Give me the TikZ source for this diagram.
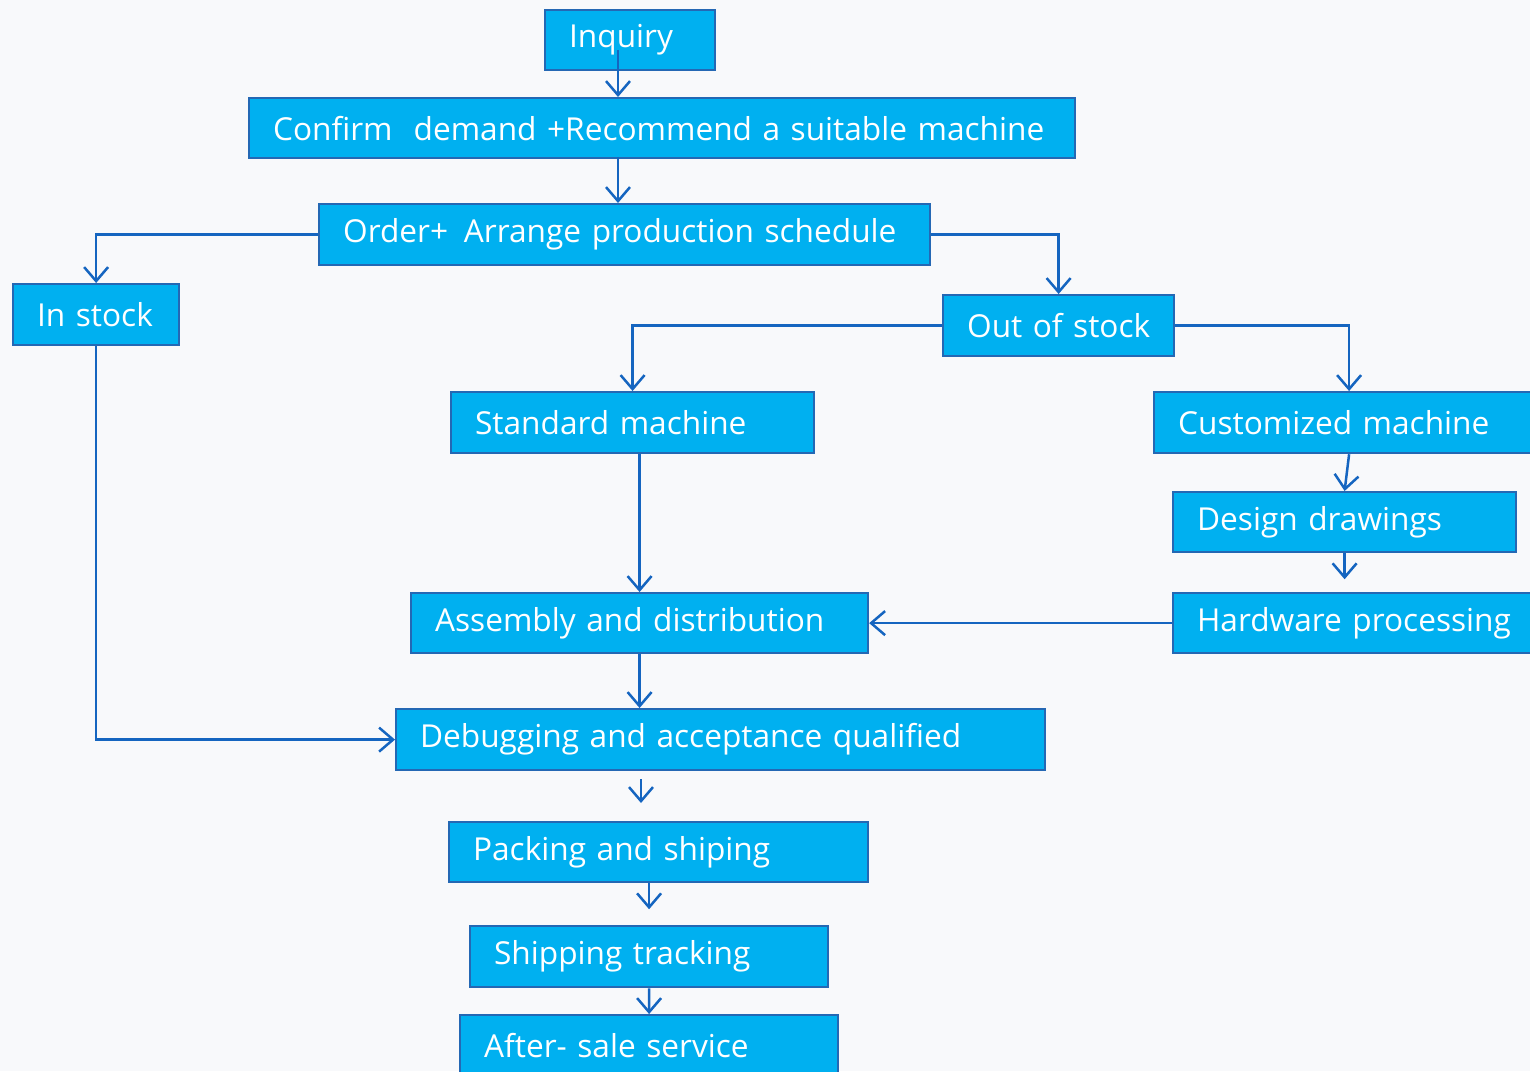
\documentclass[tikz,border=0pt]{standalone}
\usepackage{fontspec}
\setmainfont{Open Sans}
\usetikzlibrary{arrows.meta}
\definecolor{boxfill}{HTML}{00B0F0}
\definecolor{boxline}{HTML}{2468B4}
\definecolor{arrcol}{HTML}{1565C0}
\definecolor{bgcol}{HTML}{F8F9FB}
\begin{document}
\begin{tikzpicture}[x=0.02cm,y=-0.02cm,
  box/.style={draw=boxline, line width=0.045cm, fill=boxfill, text=white, anchor=north west,
    inner xsep=0.48cm, inner ysep=0pt, align=left, font=\fontsize{18}{20}\selectfont},
  arr/.style={draw=arrcol, line width=0.05cm, -{Straight Barb[length=0.28cm,width=0.48cm,line width=0.05cm]}}]
\fill[bgcol] (0,0) rectangle (1530,1071);
\clip (0,0) rectangle (1530,1071);
\node[box, minimum width=3.4cm, minimum height=1.2cm, text width=2.44cm] (inq) at (544,9) {\mbox{Inquiry}};
\node[box, minimum width=16.52cm, minimum height=1.2cm, text width=15.56cm] (conf) at (248,97) {\mbox{Confirm\ \ demand +Recommend a suitable machine}};
\node[box, minimum width=12.22cm, minimum height=1.22cm, text width=11.26cm] (ord) at (318,203) {\mbox{Order+ \,Arrange production schedule}};
\node[box, minimum width=3.32cm, minimum height=1.22cm, text width=2.36cm] (ins) at (12,283) {\mbox{In stock}};
\node[box, minimum width=4.62cm, minimum height=1.22cm, text width=3.66cm] (oos) at (942,294) {\mbox{Out of stock}};
\node[box, minimum width=7.26cm, minimum height=1.22cm, text width=6.3cm] (std) at (450,391) {\mbox{Standard machine}};
\node[box, minimum width=7.8cm, minimum height=1.22cm, text width=6.84cm] (cust) at (1153,391) {\mbox{Customized machine}};
\node[box, minimum width=6.86cm, minimum height=1.2cm, text width=5.9cm] (dd) at (1172,491) {\mbox{Design drawings}};
\node[box, minimum width=9.14cm, minimum height=1.2cm, text width=8.18cm] (asm) at (410,592) {\mbox{Assembly and distribution}};
\node[box, minimum width=7.76cm, minimum height=1.2cm, text width=6.8cm] (hw) at (1172,592) {\mbox{Hardware processing}};
\node[box, minimum width=12.98cm, minimum height=1.22cm, text width=12.02cm] (dbg) at (395,708) {\mbox{Debugging and acceptance qualified}};
\node[box, minimum width=8.38cm, minimum height=1.2cm, text width=7.42cm] (pk) at (448,821) {\mbox{Packing and shiping}};
\node[box, minimum width=7.16cm, minimum height=1.22cm, text width=6.2cm] (sh) at (469,925) {\mbox{Shipping tracking}};
\node[box, minimum width=7.56cm, minimum height=1.2cm, text width=6.6cm] (af) at (459,1014) {\mbox{After- sale service}};
\coordinate (c1) at (618,50);
\coordinate (c2) at (618,157);
\coordinate (c4) at (641,779);
\draw[arr] (c1) -- (c1 |- conf.north);
\draw[arr] (c2) -- (c2 |- ord.north);
\draw[arr] (ord.west) -| (ins.north);
\draw[arr] (ord.east) -| (oos.north);
\draw[arr] (oos.west) -| (std.north);
\draw[arr] (oos.east) -| (cust.north);
\draw[arr] (cust.south) -- (dd.north);
\draw[arr] (dd.south) -- ++(0,26);
\draw[arr] (hw.west) -- (asm.east);
\draw[arr] (std.south -| asm.north) -- (asm.north);
\draw[arr] (asm.south) -- (asm.south |- dbg.north);
\draw[arr] (ins.south) |- (dbg.west);
\draw[arr] (c4) -- ++(0,24);
\draw[arr] (pk.south -| sh.north) -- ++(0,26);
\draw[arr] (sh.south) -- (af.north);
\end{tikzpicture}
\end{document}
